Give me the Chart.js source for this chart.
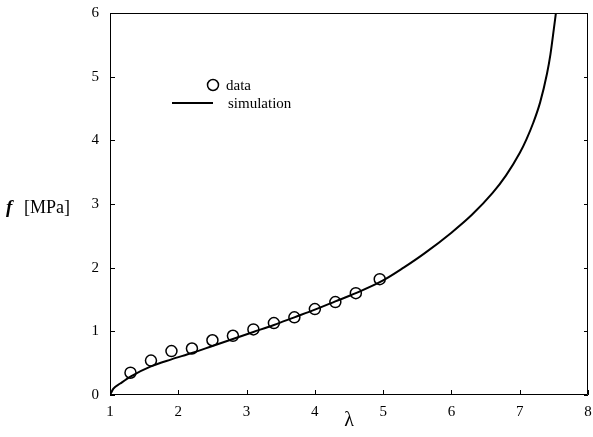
<!DOCTYPE html>
<html>
<head>
<meta charset="utf-8">
<script src="https://cdn.jsdelivr.net/npm/chart.js@4/dist/chart.umd.min.js"></script>
<style>
  html, body { margin: 0; padding: 0; background: #fff; }
  #wrap { width: 593px; height: 437px; }
</style>
</head>
<body>
<div id="wrap"><canvas id="stretchChart" width="593" height="437"></canvas></div>
<script>
// measured points
const dataX = [1.3, 1.6, 1.9, 2.2, 2.5, 2.8, 3.1, 3.4, 3.7, 4.0, 4.3, 4.6, 4.95];
const dataY = [0.35, 0.54, 0.69, 0.73, 0.86, 0.93, 1.03, 1.13, 1.22, 1.35, 1.46, 1.60, 1.82];

// simulation curve
const simX = [1, 1.05, 1.15, 1.3, 1.6, 1.9, 2.2, 2.5, 2.8, 3.1, 3.4, 3.7, 4.0, 4.3, 4.6, 5.0, 5.3, 5.6, 6.0, 6.3, 6.6, 6.8, 7.0, 7.1, 7.2, 7.3, 7.4, 7.45, 7.5, 7.53];
const simY = [0, 0.1, 0.18, 0.29, 0.45, 0.56, 0.66, 0.77, 0.88, 0.99, 1.1, 1.22, 1.34, 1.47, 1.6, 1.8, 2.0, 2.22, 2.55, 2.83, 3.17, 3.45, 3.8, 4.02, 4.28, 4.6, 5.05, 5.35, 5.75, 6.0];

const xTicks = [1, 2, 3, 4, 5, 6, 7, 8];
const yTicks = [0, 1, 2, 3, 4, 5, 6];

const serif = "'Liberation Serif', 'Times New Roman', serif";

// inward ticks, frame, legend and axis titles
const decorPlugin = {
  id: 'decor',
  afterDraw(chart) {
    const ctx = chart.ctx;
    const a = chart.chartArea;
    const xs = chart.scales.x, ys = chart.scales.y;
    ctx.save();
    ctx.strokeStyle = '#000';
    ctx.lineWidth = 1;
    ctx.beginPath();
    ctx.rect(a.left + 0.5, a.top + 0.5, a.right - a.left - 1, a.bottom - a.top - 1);
    ctx.stroke();
    ctx.beginPath();
    xTicks.forEach(v => {
      const px = Math.round(xs.getPixelForValue(v)) + 0.5;
      ctx.moveTo(px, a.bottom);
      ctx.lineTo(px, a.bottom - 5);
    });
    yTicks.forEach(v => {
      const py = Math.round(ys.getPixelForValue(v)) + 0.5;
      ctx.moveTo(a.left, py);
      ctx.lineTo(a.left + 5, py);
      ctx.moveTo(a.right, py);
      ctx.lineTo(a.right - 4, py);
    });
    ctx.stroke();

    // legend
    ctx.fillStyle = '#000';
    ctx.font = '15px ' + serif;
    ctx.textBaseline = 'middle';
    ctx.textAlign = 'left';
    ctx.lineWidth = 1.5;
    ctx.beginPath();
    ctx.arc(213, 85, 5.5, 0, Math.PI * 2);
    ctx.stroke();
    ctx.fillText('data', 226, 86);
    ctx.lineWidth = 2;
    ctx.beginPath();
    ctx.moveTo(172, 103);
    ctx.lineTo(213, 103);
    ctx.stroke();
    ctx.fillText('simulation', 228, 104);

    // y title
    ctx.font = 'italic bold 19px ' + serif;
    ctx.fillText('f', 6, 208);
    ctx.font = '18px ' + serif;
    ctx.fillText('[MPa]', 24, 208);

    // x title
    ctx.textAlign = 'center';
    ctx.font = '20px ' + serif;
    ctx.fillText('\u03bb', (a.left + a.right) / 2, 421);
    ctx.restore();
  }
};

document.addEventListener('DOMContentLoaded', function () {
  const ctx = document.getElementById('stretchChart').getContext('2d');
  const myChart = new Chart(ctx, {
    type: 'scatter',
    data: {
      datasets: [{
        label: 'data',
        data: dataX.map((x, i) => ({ x: x, y: dataY[i] })),
        pointStyle: 'circle',
        pointRadius: 5.5,
        pointBorderWidth: 1.5,
        borderColor: '#000',
        backgroundColor: 'rgba(0,0,0,0)',
        order: 0
      }, {
        label: 'simulation',
        data: simX.map((x, i) => ({ x: x, y: simY[i] })),
        showLine: true,
        pointRadius: 0,
        borderColor: '#000',
        borderWidth: 2,
        cubicInterpolationMode: 'monotone',
        order: 1
      }]
    },
    options: {
      responsive: false,
      animation: false,
      layout: { autoPadding: false, padding: { top: 13, right: 5, left: 0, bottom: 0 } },
      plugins: { legend: { display: false }, tooltip: { enabled: false } },
      scales: {
        x: {
          type: 'linear',
          min: 1,
          max: 8,
          afterFit(scale) {
            scale.height = 42;
            scale.paddingLeft = 0;
            scale.paddingRight = 0;
          },
          afterBuildTicks(scale) { scale.ticks = xTicks.map(v => ({ value: v })); },
          grid: { display: false, drawTicks: false },
          border: { display: false },
          ticks: { color: '#000', padding: 8, font: { family: serif, size: 15 } }
        },
        y: {
          type: 'linear',
          min: 0,
          max: 6,
          afterFit(scale) {
            scale.width = 110;
            scale.paddingTop = 0;
            scale.paddingBottom = 0;
          },
          afterBuildTicks(scale) { scale.ticks = yTicks.map(v => ({ value: v })); },
          grid: { display: false, drawTicks: false },
          border: { display: false },
          ticks: { color: '#000', padding: 11, font: { family: serif, size: 15 } }
        }
      }
    },
    plugins: [decorPlugin]
  });
});
</script>
</body>
</html>
